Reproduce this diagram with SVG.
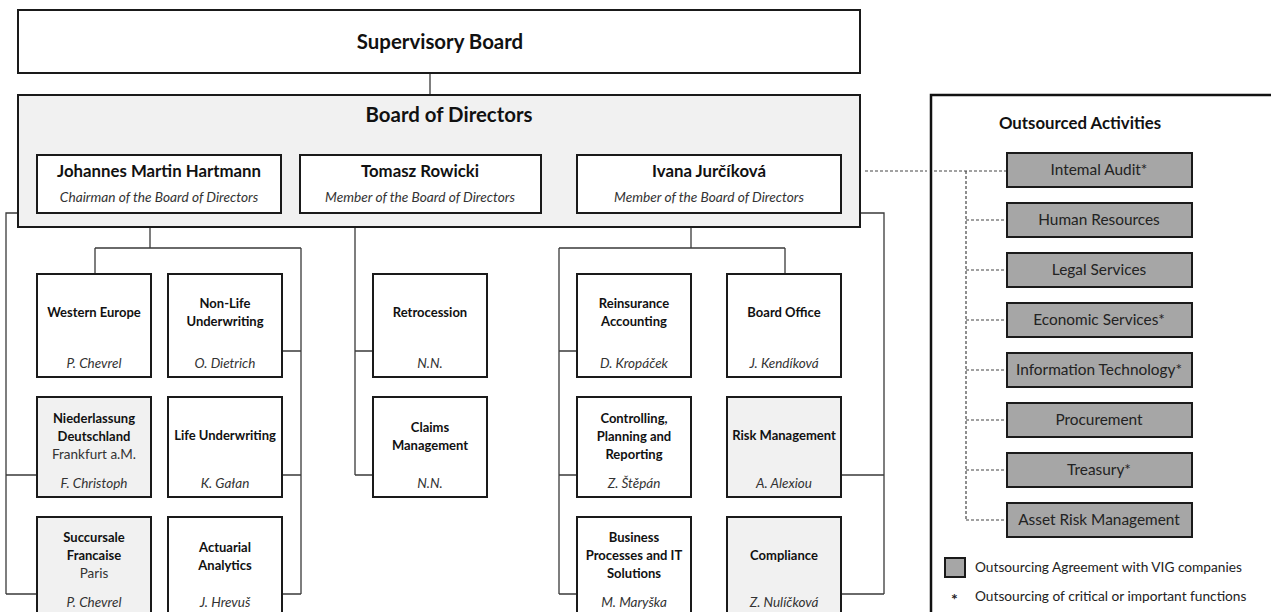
<svg xmlns="http://www.w3.org/2000/svg" width="1271" height="612" viewBox="0 0 1271 612">
<style>
text{font-family:Lato,"Open Sans","Noto Sans",sans-serif;fill:#111;text-anchor:middle}
.box{fill:#fff;stroke:#1a1a1a;stroke-width:2}
.sh{fill:#f1f1f1;stroke:#1a1a1a;stroke-width:2}
.item{fill:#a6a6a6;stroke:#1a1a1a;stroke-width:2}
.t{font-size:13px;font-weight:bold}
.n{font-size:13.5px;font-style:italic;fill:#333}
.r{font-size:13.5px;fill:#333}
.big{font-size:20.4px;font-weight:bold}
.nm{font-size:16.8px;font-weight:bold}
.sub{font-size:13.7px;font-style:italic;fill:#333}
.it{font-size:15.4px;fill:#222}
.lg{font-size:13.7px;fill:#222;text-anchor:start}
.c{fill:none;stroke:#3a3a3a;stroke-width:1.3}
.d{fill:none;stroke:#444;stroke-width:1.2;stroke-dasharray:3 2}
</style>
<rect width="1271" height="612" fill="#fff"/>
<g id="connectors">
<path class="c" d="M430 73V95"/>
<path class="c" d="M150 213V248M95 248H301M95 248V274M301 248V594M282 351H301M282 475H301M282 594H301"/>
<path class="c" d="M18 213H6V594M6 475H37M6 594H37"/>
<path class="c" d="M355 213V475M355 351H373M355 475H373"/>
<path class="c" d="M691 213V248M559 248H785M785 248V274M559 248V594M559 351H577M559 475H577M559 594H577"/>
<path class="c" d="M860 213H884V594M841 475H884M841 594H884"/>
<path class="d" d="M865 171H927M934 171H1007M966 171V520M966 220H1007M966 270H1007M966 320H1007M966 370H1007M966 420H1007M966 470H1007M966 520H1007"/>
</g>
<g id="supervisory-board">
<rect class="box" x="18" y="10" width="842" height="63"/>
<text class="big" x="440" y="49">Supervisory Board</text>
</g>
<g id="board-of-directors">
<rect class="sh" x="18" y="95" width="842" height="132"/>
<text class="big" x="449" y="122">Board of Directors</text>
</g>
<g id="hartmann">
<rect class="box" x="37" y="155" width="244" height="58"/>
<text class="nm" x="159" y="177">Johannes Martin Hartmann</text>
<text class="sub" x="159" y="202">Chairman of the Board of Directors</text>
</g>
<g id="rowicki">
<rect class="box" x="300" y="155" width="241" height="58"/>
<text class="nm" x="420" y="177">Tomasz Rowicki</text>
<text class="sub" x="420" y="202">Member of the Board of Directors</text>
</g>
<g id="jurcikova">
<rect class="box" x="577" y="155" width="264" height="58"/>
<text class="nm" x="709" y="177">Ivana Jurčíková</text>
<text class="sub" x="709" y="202">Member of the Board of Directors</text>
</g>
<g id="western-europe">
<rect class="box" x="37" y="274" width="114" height="103"/>
<text class="t" x="94" y="317">Western Europe</text>
<text class="n" x="94" y="368">P. Chevrel</text>
</g>
<g id="non-life">
<rect class="box" x="168" y="274" width="114" height="103"/>
<text class="t" x="225" y="308">Non-Life</text>
<text class="t" x="225" y="326">Underwriting</text>
<text class="n" x="225" y="368">O. Dietrich</text>
</g>
<g id="niederlassung">
<rect class="sh" x="37" y="397" width="114" height="100"/>
<text class="t" x="94" y="423">Niederlassung</text>
<text class="t" x="94" y="441">Deutschland</text>
<text class="r" x="94" y="459">Frankfurt a.M.</text>
<text class="n" x="94" y="488">F. Christoph</text>
</g>
<g id="life">
<rect class="box" x="168" y="397" width="114" height="100"/>
<text class="t" x="225" y="440">Life Underwriting</text>
<text class="n" x="225" y="488">K. Gałan</text>
</g>
<g id="succursale">
<rect class="sh" x="37" y="517" width="114" height="110"/>
<text class="t" x="94" y="542">Succursale</text>
<text class="t" x="94" y="560">Francaise</text>
<text class="r" x="94" y="578">Paris</text>
<text class="n" x="94" y="607">P. Chevrel</text>
</g>
<g id="actuarial">
<rect class="box" x="168" y="517" width="114" height="110"/>
<text class="t" x="225" y="552">Actuarial</text>
<text class="t" x="225" y="570">Analytics</text>
<text class="n" x="225" y="607">J. Hrevuš</text>
</g>
<g id="retrocession">
<rect class="box" x="373" y="274" width="114" height="103"/>
<text class="t" x="430" y="317">Retrocession</text>
<text class="n" x="430" y="368">N.N.</text>
</g>
<g id="claims">
<rect class="box" x="373" y="397" width="114" height="100"/>
<text class="t" x="430" y="432">Claims</text>
<text class="t" x="430" y="450">Management</text>
<text class="n" x="430" y="488">N.N.</text>
</g>
<g id="reinsurance-accounting">
<rect class="box" x="577" y="274" width="114" height="103"/>
<text class="t" x="634" y="308">Reinsurance</text>
<text class="t" x="634" y="326">Accounting</text>
<text class="n" x="634" y="368">D. Kropáček</text>
</g>
<g id="board-office">
<rect class="box" x="727" y="274" width="114" height="103"/>
<text class="t" x="784" y="317">Board Office</text>
<text class="n" x="784" y="368">J. Kendíková</text>
</g>
<g id="controlling">
<rect class="box" x="577" y="397" width="114" height="100"/>
<text class="t" x="634" y="423">Controlling,</text>
<text class="t" x="634" y="441">Planning and</text>
<text class="t" x="634" y="459">Reporting</text>
<text class="n" x="634" y="488">Z. Štěpán</text>
</g>
<g id="risk-management">
<rect class="sh" x="727" y="397" width="114" height="100"/>
<text class="t" x="784" y="440">Risk Management</text>
<text class="n" x="784" y="488">A. Alexiou</text>
</g>
<g id="business-processes">
<rect class="box" x="577" y="517" width="114" height="110"/>
<text class="t" x="634" y="542">Business</text>
<text class="t" x="634" y="560">Processes and IT</text>
<text class="t" x="634" y="578">Solutions</text>
<text class="n" x="634" y="607">M. Maryška</text>
</g>
<g id="compliance">
<rect class="sh" x="727" y="517" width="114" height="110"/>
<text class="t" x="784" y="560">Compliance</text>
<text class="n" x="784" y="607">Z. Nulíčková</text>
</g>
<g id="outsourced-panel">
<rect x="931" y="95" width="400" height="540" fill="none" stroke="#111" stroke-width="2.5"/>
<text x="1080" y="129" style="font-size:16.8px;font-weight:bold">Outsourced Activities</text>
</g>
<g id="internal-audit"><rect class="item" x="1007" y="153" width="185" height="34"/><text class="it" x="1099" y="175">Intemal Audit*</text></g>
<g id="human-resources"><rect class="item" x="1007" y="203" width="185" height="34"/><text class="it" x="1099" y="225">Human Resources</text></g>
<g id="legal-services"><rect class="item" x="1007" y="253" width="185" height="34"/><text class="it" x="1099" y="275">Legal Services</text></g>
<g id="economic-services"><rect class="item" x="1007" y="303" width="185" height="34"/><text class="it" x="1099" y="325">Economic Services*</text></g>
<g id="information-technology"><rect class="item" x="1007" y="353" width="185" height="34"/><text class="it" x="1099" y="375">Information Technology*</text></g>
<g id="procurement"><rect class="item" x="1007" y="403" width="185" height="34"/><text class="it" x="1099" y="425">Procurement</text></g>
<g id="treasury"><rect class="item" x="1007" y="453" width="185" height="34"/><text class="it" x="1099" y="475">Treasury*</text></g>
<g id="asset-risk-management"><rect class="item" x="1007" y="503" width="185" height="34"/><text class="it" x="1099" y="525">Asset Risk Management</text></g>
<g id="legend">
<rect class="item" x="945" y="558" width="20" height="19"/>
<text class="lg" x="951" y="605" style="font-size:16px;font-weight:bold">*</text>
<text class="lg" x="975" y="572">Outsourcing Agreement with VIG companies</text>
<text class="lg" x="975" y="601">Outsourcing of critical or important functions</text>
</g>
</svg>
